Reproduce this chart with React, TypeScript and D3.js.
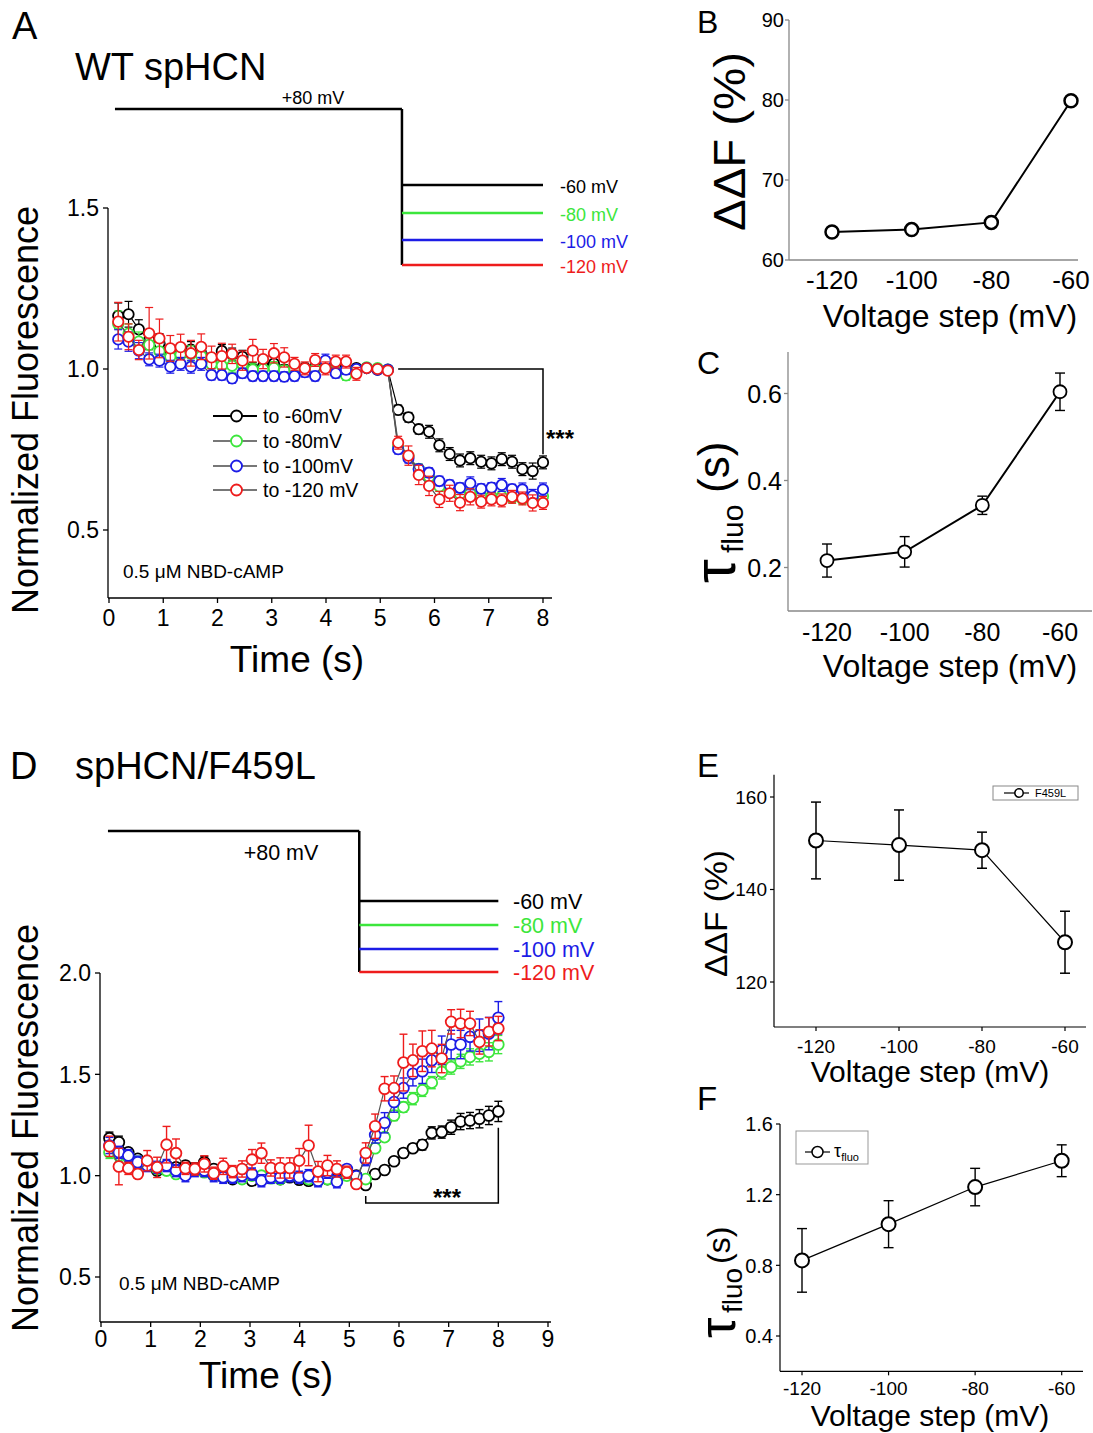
import React from 'react';
import * as d3 from 'd3';

const FONT = '"Liberation Sans", Arial, Helvetica, sans-serif';
const SERIES_COLORS = ['#000000', '#3ce63c', '#1c1ce6', '#ee1c1c'];
const LINE_COLORS = ['#000000', '#555555', '#555555', '#555555'];

// sample times (s)
const timePoints = [0.17, 0.36, 0.55, 0.74, 0.93, 1.13, 1.32, 1.51, 1.7, 1.89, 2.08, 2.27, 2.46, 2.65, 2.84, 3.04, 3.23, 3.42, 3.61, 3.8, 3.99, 4.18, 4.37, 4.56, 4.75, 4.95, 5.14, 5.33, 5.52, 5.71, 5.9, 6.09, 6.28, 6.47, 6.66, 6.86, 7.05, 7.24, 7.43, 7.62, 7.81, 8.0];

const wtLegend = ['to -60mV', 'to -80mV', 'to -100mV', 'to -120 mV'];
const stepLabels = ['-60 mV', '-80 mV', '-100 mV', '-120 mV'];

// Panel A – WT spHCN
const wt60 = [1.165, 1.17, 1.123, 1.09, 1.08, 1.049, 1.045, 1.06, 1.049, 1.028, 1.056, 1.045, 1.038, 1.0, 1.008, 1.017, 0.998, 1.0, 1.003, 1.005, 1.015, 1.008, 0.998, 1.003, 1.003, 0.998, 0.997, 0.873, 0.85, 0.813, 0.805, 0.763, 0.736, 0.716, 0.723, 0.712, 0.707, 0.72, 0.712, 0.689, 0.683, 0.71];
const wt80 = [1.14, 1.11, 1.085, 1.075, 1.055, 1.038, 1.045, 1.047, 1.04, 1.015, 1.01, 1.01, 1.015, 0.998, 1.0, 1.003, 0.996, 1.0, 0.998, 1.0, 1.005, 0.994, 0.98, 0.998, 1.005, 1.003, 0.998, 0.76, 0.73, 0.69, 0.665, 0.635, 0.62, 0.612, 0.615, 0.607, 0.605, 0.605, 0.6, 0.596, 0.6, 0.605];
const wt100 = [1.092, 1.085, 1.057, 1.03, 1.026, 1.007, 1.016, 1.007, 1.016, 0.981, 0.981, 0.971, 0.987, 0.978, 0.978, 0.978, 0.976, 0.978, 0.99, 0.978, 1.026, 0.987, 0.998, 1.0, 1.003, 0.998, 0.998, 0.751, 0.723, 0.689, 0.678, 0.652, 0.64, 0.631, 0.645, 0.628, 0.632, 0.64, 0.627, 0.626, 0.606, 0.626];
const wt120 = [1.147, 1.1, 1.059, 1.111, 1.095, 1.064, 1.068, 1.049, 1.069, 1.036, 1.04, 1.047, 1.026, 1.057, 1.031, 1.049, 1.036, 1.016, 1.002, 1.028, 1.002, 1.023, 1.023, 0.985, 1.003, 1.0, 0.995, 0.771, 0.731, 0.671, 0.637, 0.595, 0.614, 0.585, 0.603, 0.588, 0.595, 0.592, 0.603, 0.598, 0.584, 0.584];
const wt60Err = [0.04, 0.04, 0.03, 0.03, 0.03, 0.025, 0.025, 0.025, 0.025, 0.02, 0.02, 0.02, 0.02, 0.02, 0.02, 0.02, 0.015, 0.015, 0.015, 0.015, 0.015, 0.015, 0.015, 0.01, 0.01, 0.01, 0.01, 0.015, 0.015, 0.015, 0.02, 0.02, 0.02, 0.02, 0.02, 0.02, 0.02, 0.02, 0.02, 0.02, 0.025, 0.02];
const wt80Err = [0.04, 0.03, 0.03, 0.03, 0.03, 0.025, 0.025, 0.025, 0.02, 0.02, 0.02, 0.02, 0.02, 0.02, 0.02, 0.02, 0.015, 0.015, 0.015, 0.015, 0.015, 0.015, 0.015, 0.01, 0.01, 0.01, 0.01, 0.015, 0.015, 0.015, 0.015, 0.015, 0.015, 0.015, 0.015, 0.015, 0.015, 0.015, 0.015, 0.015, 0.015, 0.015];
const wt100Err = [0.03, 0.03, 0.025, 0.02, 0.02, 0.02, 0.02, 0.02, 0.02, 0.015, 0.015, 0.015, 0.015, 0.015, 0.015, 0.015, 0.015, 0.015, 0.015, 0.015, 0.02, 0.015, 0.015, 0.01, 0.01, 0.01, 0.01, 0.015, 0.015, 0.015, 0.015, 0.015, 0.015, 0.015, 0.02, 0.015, 0.015, 0.02, 0.015, 0.02, 0.02, 0.02];
const wt120Err = [0.06, 0.04, 0.03, 0.08, 0.06, 0.04, 0.04, 0.04, 0.04, 0.035, 0.04, 0.03, 0.03, 0.035, 0.03, 0.03, 0.03, 0.02, 0.02, 0.02, 0.02, 0.02, 0.02, 0.02, 0.01, 0.01, 0.01, 0.02, 0.03, 0.03, 0.03, 0.025, 0.025, 0.025, 0.025, 0.02, 0.02, 0.02, 0.02, 0.02, 0.025, 0.02];

// Panel D – spHCN/F459L
const f60 = [1.185, 1.165, 1.115, 1.083, 1.058, 1.025, 1.05, 1.041, 1.05, 1.033, 1.066, 1.033, 0.992, 0.983, 0.992, 0.975, 0.987, 0.992, 0.983, 0.992, 0.98, 0.975, 0.992, 0.983, 0.983, 1.008, 1.0, 0.954, 1.008, 1.028, 1.071, 1.112, 1.135, 1.152, 1.211, 1.215, 1.239, 1.267, 1.272, 1.281, 1.297, 1.317];
const f80 = [1.115, 1.099, 1.091, 1.066, 1.05, 1.033, 1.025, 1.008, 1.017, 1.025, 1.017, 1.0, 1.0, 0.992, 0.983, 1.0, 1.0, 0.987, 0.983, 1.0, 0.992, 0.983, 0.975, 0.983, 0.975, 1.0, 0.992, 0.983, 1.135, 1.19, 1.297, 1.338, 1.38, 1.421, 1.459, 1.512, 1.536, 1.564, 1.586, 1.602, 1.611, 1.647];
const f100 = [1.149, 1.115, 1.099, 1.066, 1.05, 1.041, 1.05, 1.025, 1.0, 1.025, 1.025, 1.0, 0.992, 0.992, 1.0, 1.008, 0.975, 0.992, 0.992, 1.0, 0.992, 1.0, 0.975, 1.017, 0.97, 1.033, 0.997, 1.079, 1.201, 1.261, 1.363, 1.432, 1.503, 1.515, 1.569, 1.619, 1.647, 1.647, 1.685, 1.693, 1.701, 1.779];
const f120 = [1.145, 1.045, 1.036, 1.008, 1.074, 1.041, 1.153, 1.111, 1.036, 1.033, 1.058, 1.012, 1.046, 1.02, 1.033, 1.079, 1.111, 1.038, 1.038, 1.038, 1.074, 1.149, 1.02, 1.05, 1.033, 1.017, 0.959, 1.112, 1.244, 1.429, 1.432, 1.558, 1.569, 1.614, 1.627, 1.578, 1.759, 1.751, 1.751, 1.66, 1.71, 1.726];
const f60Err = [0.03, 0.03, 0.02, 0.02, 0.015, 0.02, 0.02, 0.02, 0.02, 0.03, 0.03, 0.02, 0.02, 0.02, 0.02, 0.02, 0.02, 0.02, 0.02, 0.02, 0.02, 0.02, 0.02, 0.02, 0.02, 0.02, 0.015, 0.015, 0.01, 0.01, 0.015, 0.02, 0.02, 0.025, 0.03, 0.03, 0.035, 0.04, 0.04, 0.045, 0.045, 0.05];
const f80Err = [0.03, 0.03, 0.03, 0.03, 0.02, 0.02, 0.02, 0.02, 0.02, 0.02, 0.02, 0.02, 0.02, 0.02, 0.02, 0.02, 0.02, 0.02, 0.02, 0.02, 0.02, 0.02, 0.02, 0.02, 0.02, 0.02, 0.02, 0.02, 0.02, 0.02, 0.025, 0.025, 0.03, 0.03, 0.03, 0.035, 0.035, 0.035, 0.04, 0.04, 0.045, 0.045];
const f100Err = [0.04, 0.03, 0.03, 0.03, 0.03, 0.03, 0.03, 0.03, 0.03, 0.03, 0.03, 0.03, 0.03, 0.03, 0.03, 0.03, 0.03, 0.03, 0.03, 0.03, 0.03, 0.03, 0.03, 0.03, 0.03, 0.02, 0.02, 0.03, 0.04, 0.05, 0.05, 0.05, 0.06, 0.06, 0.06, 0.07, 0.07, 0.07, 0.07, 0.08, 0.08, 0.08];
const f120Err = [0.05, 0.09, 0.03, 0.02, 0.05, 0.05, 0.09, 0.07, 0.03, 0.03, 0.04, 0.03, 0.04, 0.03, 0.04, 0.05, 0.05, 0.04, 0.05, 0.05, 0.06, 0.1, 0.05, 0.05, 0.04, 0.03, 0.02, 0.05, 0.06, 0.06, 0.06, 0.14, 0.08, 0.1, 0.09, 0.07, 0.06, 0.07, 0.06, 0.06, 0.07, 0.06];

// Summary panels
const voltageSteps = [-120, -100, -80, -60];
const wtDeltaF = [63.5, 63.8, 64.7, 79.9];
const wtDeltaFErr = [0.3, 0.3, 0.5, 0.4];
const wtTau = [0.216, 0.236, 0.343, 0.604];
const wtTauErr = [0.038, 0.035, 0.021, 0.043];
const mutDeltaF = [150.6, 149.6, 148.5, 128.6];
const mutDeltaFErr = [8.3, 7.6, 3.9, 6.7];
const mutTau = [0.828, 1.033, 1.243, 1.392];
const mutTauErr = [0.18, 0.133, 0.106, 0.09];

const timeTicksA = [0, 1, 2, 3, 4, 5, 6, 7, 8];
const timeTicksD = [0, 1, 2, 3, 4, 5, 6, 7, 8, 9];
const fluoTicksA = [0.5, 1.0, 1.5];
const fluoTicksD = [0.5, 1.0, 1.5, 2.0];
const deltaTicksB = [60, 70, 80, 90];
const tauTicksC = [0.2, 0.4, 0.6];
const deltaTicksE = [120, 140, 160];
const tauTicksF = [0.4, 0.8, 1.2, 1.6];

type Scale = d3.ScaleLinear<number, number>;

function LeftAxis(p: { scale: Scale; ticks: number[]; x: number; y0: number; y1: number; fmt: (v: number) => string; fs: number; gap: number; color?: string; tl?: number; sw?: number }) {
  const c = p.color || '#000';
  const tl = p.tl ?? 5;
  return (
    <g>
      <line x1={p.x} x2={p.x} y1={p.y0} y2={p.y1} stroke={c} strokeWidth={p.sw ?? 1.3} />
      {p.ticks.map((t) => (
        <g key={t}>
          <line x1={p.x - tl} x2={p.x} y1={p.scale(t)} y2={p.scale(t)} stroke={c} strokeWidth={p.sw ?? 1.3} />
          <text x={p.x - p.gap} y={p.scale(t) + p.fs * 0.36} fontSize={p.fs} textAnchor="end" fill="#000">{p.fmt(t)}</text>
        </g>
      ))}
    </g>
  );
}

function BottomAxis(p: { scale: Scale; ticks: number[]; y: number; x0: number; x1: number; fmt: (v: number) => string; fs: number; base: number; color?: string; tl?: number; sw?: number }) {
  const c = p.color || '#000';
  const tl = p.tl ?? 5;
  return (
    <g>
      <line x1={p.x0} x2={p.x1} y1={p.y} y2={p.y} stroke={c} strokeWidth={p.sw ?? 1.3} />
      {p.ticks.map((t) => (
        <g key={t}>
          <line x1={p.scale(t)} x2={p.scale(t)} y1={p.y} y2={p.y + tl} stroke={c} strokeWidth={p.sw ?? 1.3} />
          <text x={p.scale(t)} y={p.base} fontSize={p.fs} textAnchor="middle" fill="#000">{p.fmt(t)}</text>
        </g>
      ))}
    </g>
  );
}

function Series(p: { xs: number[]; vals: number[]; errs: number[]; x: Scale; y: Scale; color: string; lineColor: string; r: number; cap: number; sw: number; lw: number; ew: number }) {
  const line = d3.line<number>().x((_, i) => p.x(p.xs[i])).y((d) => p.y(d));
  return (
    <g>
      <path d={line(p.vals) || ''} fill="none" stroke={p.lineColor} strokeWidth={p.lw} />
      {p.vals.map((v, i) => {
        const cx = p.x(p.xs[i]);
        const top = p.y(v + p.errs[i]);
        const bot = p.y(v - p.errs[i]);
        return (
          <g key={i} stroke={p.color} strokeWidth={p.ew}>
            <line x1={cx} x2={cx} y1={top} y2={bot} />
            <line x1={cx - p.cap} x2={cx + p.cap} y1={top} y2={top} />
            <line x1={cx - p.cap} x2={cx + p.cap} y1={bot} y2={bot} />
          </g>
        );
      })}
      {p.vals.map((v, i) => (
        <circle key={'c' + i} cx={p.x(p.xs[i])} cy={p.y(v)} r={p.r} fill="#fff" stroke={p.color} strokeWidth={p.sw} />
      ))}
    </g>
  );
}

// rotated text piece: starts at (x baseline, y) and runs upward
function VText(p: { x: number; y: number; fs: number; len?: number; children: React.ReactNode }) {
  return (
    <text
      transform={`translate(${p.x},${p.y}) rotate(-90)`}
      fontSize={p.fs}
      textLength={p.len}
      lengthAdjust={p.len ? 'spacingAndGlyphs' : undefined}
    >
      {p.children}
    </text>
  );
}

const fmt1 = (v: number) => v.toFixed(1);
const fmt0 = (v: number) => String(v);

function PanelA() {
  const x = d3.scaleLinear().domain([0, 8]).range([109, 543]);
  const y = d3.scaleLinear().domain([0.5, 1.5]).range([530, 208]);
  const vals = [wt60, wt80, wt100, wt120];
  const errs = [wt60Err, wt80Err, wt100Err, wt120Err];
  const levelsY = [185, 213, 240, 265];
  const legendY = [416, 441, 466, 490];
  const stepT = 5.4;
  const bx0 = x(timePoints[27]);
  const bx1 = x(timePoints[41]);
  return (
    <g>
      <text x={12} y={39} fontSize={38}>A</text>
      <text x={75} y={80} fontSize={38}>WT spHCN</text>
      <g stroke="#000" strokeWidth={2.5} fill="none">
        <line x1={x(0.11)} x2={x(stepT)} y1={109} y2={109} />
        <line x1={x(stepT)} x2={x(stepT)} y1={109} y2={levelsY[3]} />
      </g>
      {levelsY.map((ly, i) => (
        <g key={i}>
          <line x1={x(stepT)} x2={x(8)} y1={ly} y2={ly} stroke={SERIES_COLORS[i]} strokeWidth={2.5} />
          <text x={560} y={ly + 8} fontSize={18} fill={SERIES_COLORS[i]}>{stepLabels[i]}</text>
        </g>
      ))}
      <text x={313} y={104} fontSize={18} textAnchor="middle">+80 mV</text>
      <LeftAxis scale={y} ticks={fluoTicksA} x={108} y0={208} y1={598} fmt={fmt1} fs={23} gap={9} />
      <BottomAxis scale={x} ticks={timeTicksA} y={598} x0={108} x1={552} fmt={fmt0} fs={23} base={626} />
      <text transform="translate(38,410) rotate(-90)" fontSize={36} textAnchor="middle">Normalized Fluorescence</text>
      <text x={297} y={672} fontSize={37} textAnchor="middle">Time (s)</text>
      {vals.map((v, i) => (
        <Series key={i} xs={timePoints} vals={v} errs={errs[i]} x={x} y={y} color={SERIES_COLORS[i]} lineColor={LINE_COLORS[i]} r={5.2} cap={4} sw={1.8} lw={1.2} ew={1.2} />
      ))}
      <path d={`M${bx0},${y(1.0)} H${bx1} V${y(wt60[41] + wt60Err[41] + 0.005)}`} fill="none" stroke="#000" strokeWidth={1.5} />
      <text x={546} y={447} fontSize={24} fontWeight="bold">***</text>
      {legendY.map((ly, i) => (
        <g key={i}>
          <line x1={213} x2={257} y1={ly} y2={ly} stroke={i === 0 ? '#000' : '#777'} strokeWidth={2} />
          <circle cx={236.5} cy={ly} r={5.5} fill="#fff" stroke={SERIES_COLORS[i]} strokeWidth={1.8} />
          <text x={263} y={ly + 7} fontSize={19.5}>{wtLegend[i]}</text>
        </g>
      ))}
      <text x={123} y={578} fontSize={19}>0.5 μM NBD-cAMP</text>
    </g>
  );
}

function PanelD() {
  const x = d3.scaleLinear().domain([0, 9]).range([101, 548]);
  const y = d3.scaleLinear().domain([0.5, 2.0]).range([1277, 973]);
  const vals = [f60, f80, f100, f120];
  const errs = [f60Err, f80Err, f100Err, f120Err];
  const levelsY = [901, 925, 949, 972];
  const stepT = 5.2;
  const bx0 = x(timePoints[27]);
  const bx1 = x(timePoints[41]);
  const by = y(0.865);
  return (
    <g>
      <text x={10} y={779} fontSize={38}>D</text>
      <text x={75} y={779} fontSize={38}>spHCN/F459L</text>
      <g stroke="#000" strokeWidth={2.5} fill="none">
        <line x1={x(0.14)} x2={x(stepT)} y1={831} y2={831} />
        <line x1={x(stepT)} x2={x(stepT)} y1={831} y2={levelsY[3]} />
      </g>
      {levelsY.map((ly, i) => (
        <g key={i}>
          <line x1={x(stepT)} x2={x(8)} y1={ly} y2={ly} stroke={SERIES_COLORS[i]} strokeWidth={2.5} />
          <text x={513} y={ly + 8} fontSize={21.5} fill={SERIES_COLORS[i]}>{stepLabels[i]}</text>
        </g>
      ))}
      <text x={281} y={860} fontSize={21.5} textAnchor="middle">+80 mV</text>
      <LeftAxis scale={y} ticks={fluoTicksD} x={100} y0={973} y1={1322} fmt={fmt1} fs={23} gap={9} />
      <BottomAxis scale={x} ticks={timeTicksD} y={1322} x0={100} x1={551} fmt={fmt0} fs={23} base={1347} />
      <text transform="translate(38,1128) rotate(-90)" fontSize={36} textAnchor="middle">Normalized Fluorescence</text>
      <text x={266} y={1388} fontSize={37} textAnchor="middle">Time (s)</text>
      {vals.map((v, i) => (
        <Series key={i} xs={timePoints} vals={v} errs={errs[i]} x={x} y={y} color={SERIES_COLORS[i]} lineColor={LINE_COLORS[i]} r={5.4} cap={4} sw={1.8} lw={1.2} ew={1.4} />
      ))}
      <path d={`M${bx0},${y(0.9)} V${by} H${bx1} V${y(f60[41] - f60Err[41] - 0.03)}`} fill="none" stroke="#000" strokeWidth={1.5} />
      <text x={433} y={1206} fontSize={24} fontWeight="bold">***</text>
      <text x={119} y={1290} fontSize={19}>0.5 μM NBD-cAMP</text>
    </g>
  );
}

function Summary(p: { x: Scale; y: Scale; vals: number[]; errs: number[]; r: number; sw: number; lw: number; cap: number; ew: number }) {
  const line = d3.line<number>().x((_, i) => p.x(voltageSteps[i])).y((d) => p.y(d));
  return (
    <g>
      <path d={line(p.vals) || ''} fill="none" stroke="#000" strokeWidth={p.lw} />
      {p.vals.map((v, i) => {
        const cx = p.x(voltageSteps[i]);
        const t = p.y(v + p.errs[i]);
        const b = p.y(v - p.errs[i]);
        return (
          <g key={i} stroke="#000" strokeWidth={p.ew}>
            <line x1={cx} x2={cx} y1={t} y2={b} />
            <line x1={cx - p.cap} x2={cx + p.cap} y1={t} y2={t} />
            <line x1={cx - p.cap} x2={cx + p.cap} y1={b} y2={b} />
          </g>
        );
      })}
      {p.vals.map((v, i) => (
        <circle key={'c' + i} cx={p.x(voltageSteps[i])} cy={p.y(v)} r={p.r} fill="#fff" stroke="#000" strokeWidth={p.sw} />
      ))}
    </g>
  );
}

function PanelB() {
  const x = d3.scaleLinear().domain([-120, -60]).range([832, 1071]);
  const y = d3.scaleLinear().domain([60, 90]).range([260, 20]);
  return (
    <g>
      <text x={697} y={33} fontSize={32}>B</text>
      <LeftAxis scale={y} ticks={deltaTicksB} x={789} y0={20} y1={260} fmt={fmt0} fs={20} gap={5} color="#888" tl={4} />
      <BottomAxis scale={x} ticks={voltageSteps} y={260} x0={789} x1={1078} fmt={fmt0} fs={26} base={289} color="#888" tl={0} />
      <Summary x={x} y={y} vals={wtDeltaF} errs={wtDeltaFErr} r={6.5} sw={2.5} lw={2} cap={3} ew={1.2} />
      <VText x={745} y={231} fs={44} len={179}>ΔΔF (%)</VText>
      <text x={950} y={327} fontSize={32} textAnchor="middle">Voltage step (mV)</text>
    </g>
  );
}

function PanelC() {
  const x = d3.scaleLinear().domain([-120, -60]).range([827, 1060]);
  const y = d3.scaleLinear().domain([0.1, 0.7]).range([611, 350]);
  return (
    <g>
      <text x={697} y={374} fontSize={32}>C</text>
      <LeftAxis scale={y} ticks={tauTicksC} x={788} y0={352} y1={611} fmt={fmt1} fs={25} gap={6} color="#888" tl={4} />
      <BottomAxis scale={x} ticks={voltageSteps} y={611} x0={788} x1={1092} fmt={fmt0} fs={25} base={641} color="#888" tl={0} />
      <Summary x={x} y={y} vals={wtTau} errs={wtTauErr} r={6.5} sw={1.8} lw={2} cap={5} ew={1.4} />
      <VText x={735} y={583} fs={60}>τ</VText>
      <VText x={743} y={553} fs={30}>fluo</VText>
      <VText x={729} y={493} fs={44}>(s)</VText>
      <text x={950} y={677} fontSize={32} textAnchor="middle">Voltage step (mV)</text>
    </g>
  );
}

function PanelE() {
  const x = d3.scaleLinear().domain([-120, -60]).range([816, 1065]);
  const y = d3.scaleLinear().domain([120, 160]).range([982, 797]);
  return (
    <g>
      <text x={697} y={777} fontSize={33}>E</text>
      <LeftAxis scale={y} ticks={deltaTicksE} x={774} y0={y(164.8)} y1={1027} fmt={fmt0} fs={19} gap={7} tl={4} sw={1.2} />
      <BottomAxis scale={x} ticks={voltageSteps} y={1027} x0={774} x1={1086} fmt={fmt0} fs={19} base={1053} tl={4} sw={1.2} />
      <Summary x={x} y={y} vals={mutDeltaF} errs={mutDeltaFErr} r={7} sw={2} lw={1.2} cap={5} ew={1.5} />
      <VText x={727} y={977} fs={31} len={127}>ΔΔF (%)</VText>
      <text x={930} y={1082} fontSize={30} textAnchor="middle">Voltage step (mV)</text>
      <rect x={993} y={786} width={85} height={14} fill="#fff" stroke="#888" strokeWidth={1} />
      <line x1={1004} x2={1029} y1={793} y2={793} stroke="#000" strokeWidth={1.2} />
      <circle cx={1019} cy={793} r={4.2} fill="#fff" stroke="#000" strokeWidth={1.5} />
      <text x={1035} y={797} fontSize={11}>F459L</text>
    </g>
  );
}

function PanelF() {
  const x = d3.scaleLinear().domain([-120, -60]).range([802, 1061.7]);
  const y = d3.scaleLinear().domain([0.4, 1.6]).range([1336, 1124]);
  return (
    <g>
      <text x={697} y={1110} fontSize={33}>F</text>
      <LeftAxis scale={y} ticks={tauTicksF} x={780} y0={1124} y1={y(0.2)} fmt={fmt1} fs={20} gap={7} tl={4} sw={1.2} />
      <BottomAxis scale={x} ticks={voltageSteps} y={y(0.2)} x0={780} x1={1083} fmt={fmt0} fs={19} base={1395} tl={4} sw={1.2} />
      <Summary x={x} y={y} vals={mutTau} errs={mutTauErr} r={7} sw={2} lw={1.2} cap={5} ew={1.4} />
      <VText x={735} y={1338} fs={52}>τ</VText>
      <VText x={742} y={1313} fs={28}>fluo</VText>
      <VText x={730} y={1264} fs={32}>(s)</VText>
      <text x={930} y={1426} fontSize={30} textAnchor="middle">Voltage step (mV)</text>
      <rect x={796} y={1131} width={72} height={33} fill="#fff" stroke="#999" strokeWidth={1} />
      <line x1={805} x2={830} y1={1152} y2={1152} stroke="#000" strokeWidth={1.2} />
      <circle cx={817.5} cy={1152} r={5.5} fill="#fff" stroke="#000" strokeWidth={1.5} />
      <text x={834} y={1157} fontSize={18}>
        <tspan>τ</tspan>
        <tspan fontSize={11} dy={4}>fluo</tspan>
      </text>
    </g>
  );
}

export default function App() {
  const W = 1093;
  const H = 1433;
  return (
    <svg width={W} height={H} viewBox={`0 0 ${W} ${H}`} style={{ position: 'absolute', left: 0, top: 0, background: '#fff' }} fontFamily={FONT}>
      <rect width={W} height={H} fill="#fff" />
      <PanelA />
      <PanelD />
      <PanelB />
      <PanelC />
      <PanelE />
      <PanelF />
    </svg>
  );
}
